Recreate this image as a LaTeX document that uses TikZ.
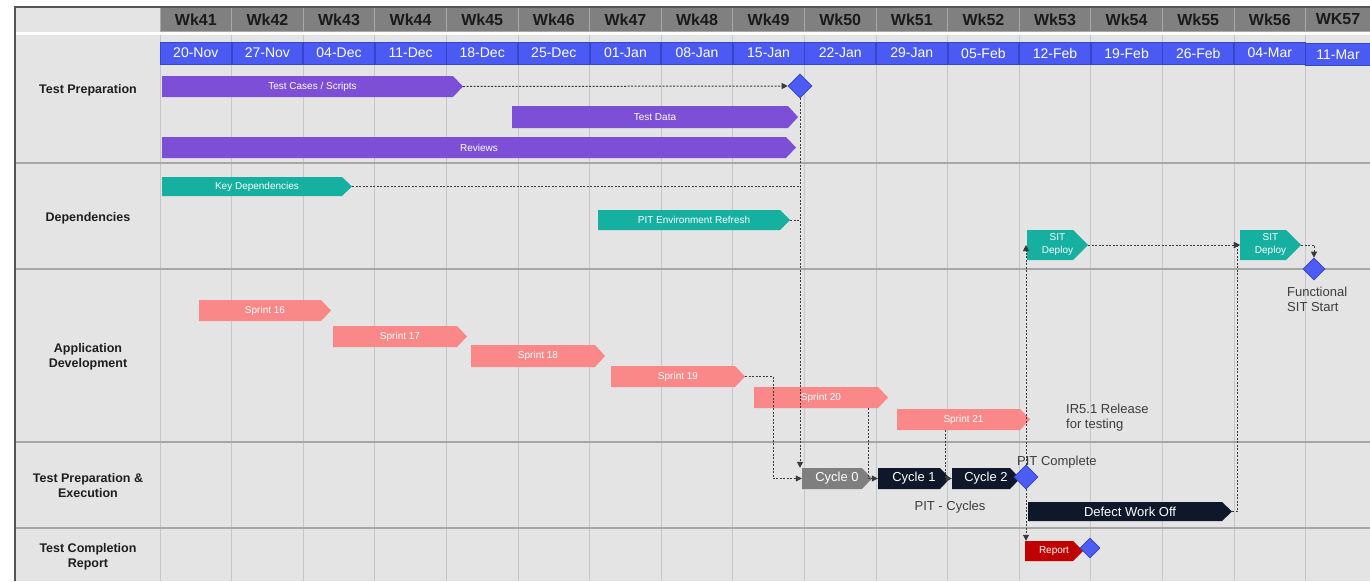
\documentclass[tikz,border=0pt]{standalone}
\usepackage{fontspec}
\setmainfont{Liberation Sans}
\usetikzlibrary{arrows.meta,shapes.geometric}

\definecolor{bodybg}{HTML}{E4E4E4}
\definecolor{hdrgray}{HTML}{808080}
\definecolor{hdrline}{HTML}{A8A8A8}
\definecolor{wktext}{HTML}{1A1A1A}
\definecolor{dateblue}{HTML}{4A5AF2}
\definecolor{datebd}{HTML}{3546C8}
\definecolor{gridln}{HTML}{C6C6C6}
\definecolor{rowln}{HTML}{A6A6A6}
\definecolor{framedk}{HTML}{555555}
\definecolor{barpurple}{HTML}{7D4FD6}
\definecolor{barteal}{HTML}{16B0A0}
\definecolor{barsalmon}{HTML}{FA8888}
\definecolor{barnavy}{HTML}{0F172A}
\definecolor{bargray}{HTML}{7F7F7F}
\definecolor{barred}{HTML}{C00000}
\definecolor{msblue}{HTML}{4D5CF4}
\definecolor{msedge}{HTML}{3443C8}
\definecolor{linkgray}{HTML}{3A3A3A}
\definecolor{labeltext}{HTML}{1E1E1E}
\definecolor{notetext}{HTML}{3C3C3C}

\def\barTip{10pt}
\tikzset{
  tipl/.store in=\barTip,
  wkcell/.style={fill=hdrgray, draw=hdrline, line width=0.8pt, minimum height=24,
    inner sep=0pt, text=wktext, font=\bfseries\fontsize{16}{18}\selectfont},
  datecell/.style={fill=dateblue, draw=datebd, line width=0.8pt, minimum height=22,
    inner sep=0pt, text=white, font=\fontsize{14}{16}\selectfont},
  lbl/.style={font=\bfseries\fontsize{12.5}{15}\selectfont, text=labeltext, align=center},
  note/.style={font=\fontsize{13}{15}\selectfont, text=notetext, align=left, inner sep=0pt},
  bar/.style={inner sep=0pt, text=white, align=center,
    font=\fontsize{10}{13}\selectfont,
    path picture={\fill[#1] (path picture bounding box.north west)
      -- ([xshift=-\barTip]path picture bounding box.north east)
      -- (path picture bounding box.east)
      -- ([xshift=-\barTip]path picture bounding box.south east)
      -- (path picture bounding box.south west) -- cycle;}},
  bigbar/.style={bar=#1, font=\fontsize{13}{15}\selectfont},
  milestone/.style={diamond, aspect=1, fill=msblue, draw=msedge, line width=0.6pt,
    inner sep=0pt, minimum size=#1},
  link/.style={draw=linkgray, line width=1pt, dash pattern=on 2pt off 1.5pt},
  linkarrow/.style={link, -{Triangle[length=6pt,width=6pt]}},
}

% bar from x-left to x-tip, y-top to y-bottom
\newcommand\ganttbar[7]{%
  \node[#2, minimum width={#4-#3}, minimum height={#6-#5}] (#1)
    at ({(#3+#4)/2},{(#5+#6)/2}) {#7};}

\begin{document}
\begin{tikzpicture}[x=1pt,y=-1pt]
\useasboundingbox (0,0) rectangle (1370,581);
\fill[white] (0,0) rectangle (1370,581);
\fill[bodybg] (15,7) rectangle (1370,581);

% vertical week grid
\foreach \i in {0,...,16}
  \draw[gridln, line width=1pt] ({160+71.6*\i},33) -- ({160+71.6*\i},581);

% week header
\foreach \w [count=\i from 0] in {41,...,56}
  \node[wkcell, minimum width=71.6] (wk\w) at ({160+71.6*\i+35.8},19.5) {Wk\w};
\node[wkcell, minimum width=65] (wk57) at (1338,19.5) {WK57};
\draw[white, line width=3pt] (15,33) -- (1370,33);

% date row
\foreach \d [count=\i from 0] in {20-Nov,27-Nov,04-Dec,11-Dec,18-Dec,25-Dec,01-Jan,08-Jan,15-Jan,22-Jan,29-Jan,05-Feb,12-Feb,19-Feb,26-Feb,04-Mar}
  \node[datecell, minimum width=70.8] (d\i) at ({160+71.6*\i+35.8},53) {\d};
\node[datecell, minimum width=65] (d16) at (1338,54.5) {11-Mar};

% swimlane separators and frame
\foreach \y in {163,269,442,528}
  \draw[rowln, line width=1.5pt] (15,\y) -- (1370,\y);
\draw[framedk, line width=2pt] (15,581) -- (15,7) -- (1370,7);

% lane labels
\node[lbl] (lprep) at (88,90) {Test Preparation};
\node[lbl] (ldep) at (88,218) {Dependencies};
\node[lbl] (ldev) at (88,356.5) {Application\\Development};
\node[lbl] (lexec) at (88,485.5) {Test Preparation \&\\Execution};
\node[lbl] (lrep) at (88,557) {Test Completion\\Report};

% Test Preparation
\ganttbar{tcs}{bar=barpurple}{162}{463}{76}{97}{Test Cases / Scripts}
\ganttbar{tdata}{bar=barpurple}{512}{798}{106}{128}{Test Data}
\ganttbar{rev}{bar=barpurple}{162}{796}{137}{158}{Reviews}
\node[milestone=24] (ms1) at (800,86) {};

% Dependencies
\ganttbar{keydep}{bar=barteal}{162}{352}{177}{196}{Key Dependencies}
\ganttbar{pitenv}{bar=barteal}{598}{790}{210}{230}{PIT Environment Refresh}
\ganttbar{sit1}{bar=barteal,tipl=15pt}{1027}{1088}{230}{260}{SIT\\Deploy}
\ganttbar{sit2}{bar=barteal,tipl=15pt}{1240}{1301}{230}{260}{SIT\\Deploy}
\node[milestone=22] (ms2) at (1314,269) {};
\node[note, anchor=north west] (fsit) at (1287,287) {Functional\\SIT Start};

% Application Development
\ganttbar{s16}{bar=barsalmon}{199}{331}{300}{321}{Sprint 16}
\ganttbar{s17}{bar=barsalmon}{333}{467}{326}{347}{Sprint 17}
\ganttbar{s18}{bar=barsalmon}{471}{605}{345}{367}{Sprint 18}
\ganttbar{s19}{bar=barsalmon}{611}{745}{366}{387}{Sprint 19}
\ganttbar{s20}{bar=barsalmon}{754}{888}{387}{408}{Sprint 20}
\ganttbar{s21}{bar=barsalmon}{897}{1030}{409}{430}{Sprint 21}
\node[note, anchor=north west] (ir51) at (1066,404) {IR5.1 Release\\for testing};

% Test Preparation & Execution
\ganttbar{cyc0}{bigbar=bargray}{802}{872}{468}{489}{Cycle 0}
\ganttbar{cyc1}{bigbar=barnavy}{878}{950}{468}{489}{Cycle 1}
\ganttbar{cyc2}{bigbar=barnavy}{952}{1020}{468}{489}{Cycle 2}
\ganttbar{defect}{bigbar=barnavy}{1028}{1232}{502}{521}{Defect Work Off}
\node[note] (pitcyc) at (950,507) {PIT - Cycles};

% Test Completion Report
\ganttbar{report}{bar=barred}{1025}{1083}{541}{561}{Report}
\node[milestone=20] (ms4) at (1090,548) {};

% dependency links
\draw[linkarrow] (tcs.east) -- (ms1.west);
\draw[linkarrow] (ms1.south) -- (ms1.south |- cyc0.north);
\draw[link] (keydep.east) -- (keydep.east -| ms1.south);
\draw[link] (pitenv.east) -- (pitenv.east -| ms1.south);
\draw[linkarrow] (s19.east) -- ++(28,0) |- (cyc0.west);
\draw[linkarrow] ([xshift=47pt]s20.south) |- (cyc1.west);
\draw[linkarrow] ([xshift=-18.5pt]s21.south) |- (cyc2.west);
\node[milestone=24] (ms3) at (1026,477) {};
\draw[linkarrow] (ms3.north) -- (ms3.north |- sit1.west);
\draw[linkarrow] (ms3.south) -- (ms3.south |- report.north);
\draw[linkarrow] (sit1.east) -- (sit2.west);
\draw[linkarrow] (defect.east) -- ++(5,0) |- (sit2.west);
\draw[linkarrow] (sit2.east) -| (ms2.north);
\node[note, anchor=west] (pitdone) at (1017,462) {PIT Complete};
\end{tikzpicture}
\end{document}
